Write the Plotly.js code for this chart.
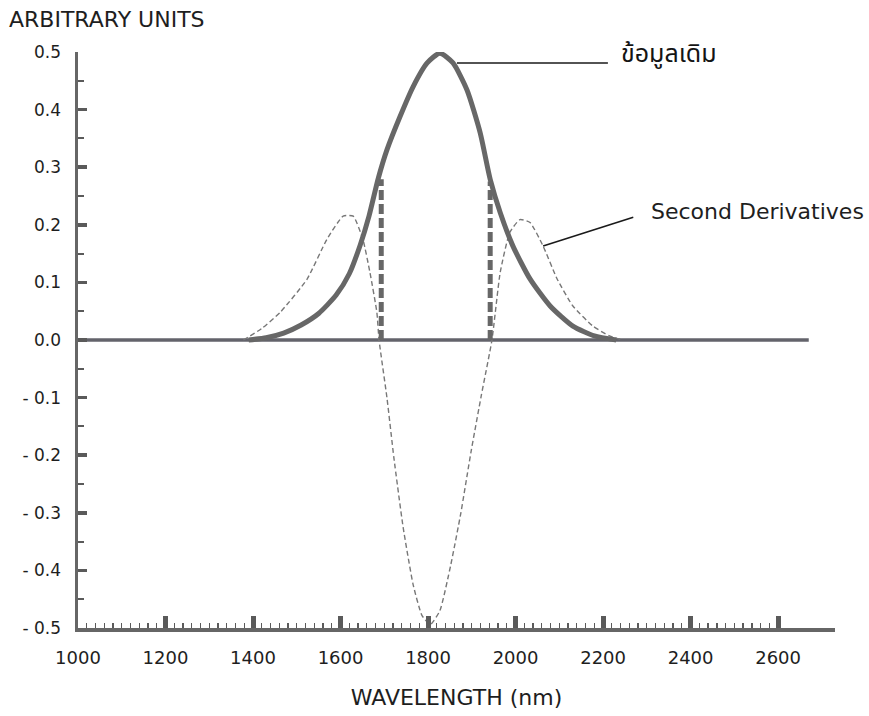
<!DOCTYPE html>
<html>
<head>
<meta charset="utf-8">
<script src="https://cdn.plot.ly/plotly-3.0.1.min.js"></script>
<style>
  html, body { margin: 0; padding: 0; background: #ffffff; }
  #chart { width: 869px; height: 716px; }
</style>
</head>
<body>
<div id="chart"></div>
<script>
// ---- data ----
const originalX = [1390, 1430, 1470, 1510, 1550, 1590, 1620, 1645, 1665, 1686, 1706, 1736, 1766, 1798, 1827, 1857, 1889, 1919, 1942, 1965, 1994, 2033, 2079, 2131, 2180, 2230];
const originalY = [0.0, 0.004, 0.012, 0.026, 0.046, 0.078, 0.115, 0.165, 0.215, 0.280, 0.330, 0.388, 0.440, 0.481, 0.498, 0.481, 0.434, 0.360, 0.279, 0.221, 0.163, 0.106, 0.059, 0.024, 0.007, 0.0];

const secondDerivX = [1378, 1420, 1462, 1523, 1569, 1606, 1629, 1651, 1667, 1683, 1688, 1706, 1722, 1743, 1766, 1786, 1805, 1827, 1852, 1875, 1898, 1922, 1946, 1965, 1987, 2010, 2033, 2063, 2095, 2131, 2177, 2215, 2245];
const secondDerivY = [0.0, 0.020, 0.048, 0.105, 0.175, 0.215, 0.215, 0.175, 0.118, 0.048, 0.0, -0.100, -0.205, -0.325, -0.425, -0.478, -0.494, -0.470, -0.390, -0.300, -0.195, -0.095, 0.0, 0.118, 0.187, 0.209, 0.204, 0.163, 0.106, 0.059, 0.024, 0.007, 0.0];

// inflection markers (thick dashed verticals)
const markerX = [1693, 1942];
const markerTop = [0.279, 0.275];

const baselineX = [1000, 2670];
const baselineY = [0, 0];

const xTickVals = [1000, 1200, 1400, 1600, 1800, 2000, 2200, 2400, 2600];
const xTickText = ['1000', '1200', '1400', '1600', '1800', '2000', '2200', '2400', '2600'];
const yTickVals = [0.5, 0.4, 0.3, 0.2, 0.1, 0.0, -0.1, -0.2, -0.3, -0.4, -0.5];
const yTickText = ['0.5', '0.4', '0.3', '0.2', '0.1', '0.0', '- 0.1', '- 0.2', '- 0.3', '- 0.4', '- 0.5'];

const labelOriginal = 'ข้อมูลเดิม';
const labelSecond = 'Second Derivatives';
const yTitle = 'ARBITRARY UNITS';
const xTitle = 'WAVELENGTH (nm)';

// ---- build ----
const minorX = [];
for (let v = 1020; v < 2620; v += 20) { if (v % 200 !== 0) minorX.push(v); }
const minorY = [0.45, 0.35, 0.25, 0.15, 0.05, -0.05, -0.15, -0.25, -0.35, -0.45];

const FONT = 'DejaVu Sans, Verdana, sans-serif';
const GRAY = '#676767';
const TXT = '#1e1e1e';

const traces = [
  { x: baselineX, y: baselineY, mode: 'lines', line: { color: '#63636b', width: 3.5 }, hoverinfo: 'skip', showlegend: false },
  { x: secondDerivX, y: secondDerivY, mode: 'lines', line: { color: '#777777', width: 1.4, dash: '5px,3px', shape: 'spline', smoothing: 0.5 }, showlegend: false },
  { x: originalX, y: originalY, mode: 'lines', line: { color: GRAY, width: 5, shape: 'spline', smoothing: 0.6 }, showlegend: false }
];
markerX.forEach((mx, i) => {
  traces.push({ x: [mx, mx], y: [0, markerTop[i]], mode: 'lines', line: { color: GRAY, width: 5, dash: '10px,4px' }, showlegend: false, hoverinfo: 'skip' });
});

const layout = {
  width: 869, height: 716,
  margin: { l: 78, r: 34, t: 52, b: 88 },
  paper_bgcolor: '#ffffff', plot_bgcolor: '#ffffff',
  font: { family: FONT, color: TXT, size: 17 },
  showlegend: false,
  xaxis: {
    range: [1000, 2730], showgrid: false, zeroline: false,
    showline: true, linecolor: '#666666', linewidth: 3.5,
    ticks: 'inside', ticklen: 12, tickwidth: 5, tickcolor: '#5a5a5a',
    tickmode: 'array', tickvals: xTickVals, ticktext: xTickText,
    tickfont: { family: FONT, size: 18, color: TXT },
    ticklabelstandoff: 11,
    minor: { tickmode: 'array', tickvals: minorX, ticks: 'inside', ticklen: 5, tickwidth: 1.3, tickcolor: '#5a5a5a' },
    title: { text: xTitle, font: { family: FONT, size: 22, color: TXT }, standoff: 23 },
    automargin: false, fixedrange: true
  },
  yaxis: {
    range: [-0.5, 0.5], showgrid: false, zeroline: false,
    showline: true, linecolor: '#666666', linewidth: 3.5,
    ticks: 'inside', ticklen: 9, tickwidth: 3.5, tickcolor: '#5a5a5a',
    tickmode: 'array', tickvals: yTickVals, ticktext: yTickText,
    tickfont: { family: FONT, size: 17, color: TXT },
    ticklabelstandoff: 10,
    minor: { tickmode: 'array', tickvals: minorY, ticks: 'inside', ticklen: 6, tickwidth: 2, tickcolor: '#5a5a5a' },
    automargin: false, fixedrange: true
  },
  shapes: [
    { type: 'line', xref: 'x', yref: 'y', x0: 1866, y0: 0.481, x1: 2211, y1: 0.481, line: { color: '#1a1a1a', width: 1.6 } },
    { type: 'line', xref: 'x', yref: 'y', x0: 2063, y0: 0.163, x1: 2269, y1: 0.213, line: { color: '#1a1a1a', width: 1.6 } }
  ],
  annotations: [
    { text: labelOriginal, xref: 'x', yref: 'y', x: 2237, y: 0.497, xanchor: 'left', yanchor: 'middle', showarrow: false,
      font: { family: 'Noto Sans Thai, Noto Sans, DejaVu Sans, sans-serif', size: 25, color: '#141414' } },
    { text: labelSecond, xref: 'x', yref: 'y', x: 2305, y: 0.223, xanchor: 'left', yanchor: 'middle', showarrow: false,
      font: { family: FONT, size: 22, color: TXT } },
    { text: yTitle, xref: 'paper', yref: 'paper', x: -0.094, y: 1.056, xanchor: 'left', yanchor: 'middle', showarrow: false,
      font: { family: FONT, size: 22, color: TXT } }
  ]
};

Plotly.newPlot('chart', traces, layout, { displayModeBar: false, staticPlot: true });
</script>
</body>
</html>
